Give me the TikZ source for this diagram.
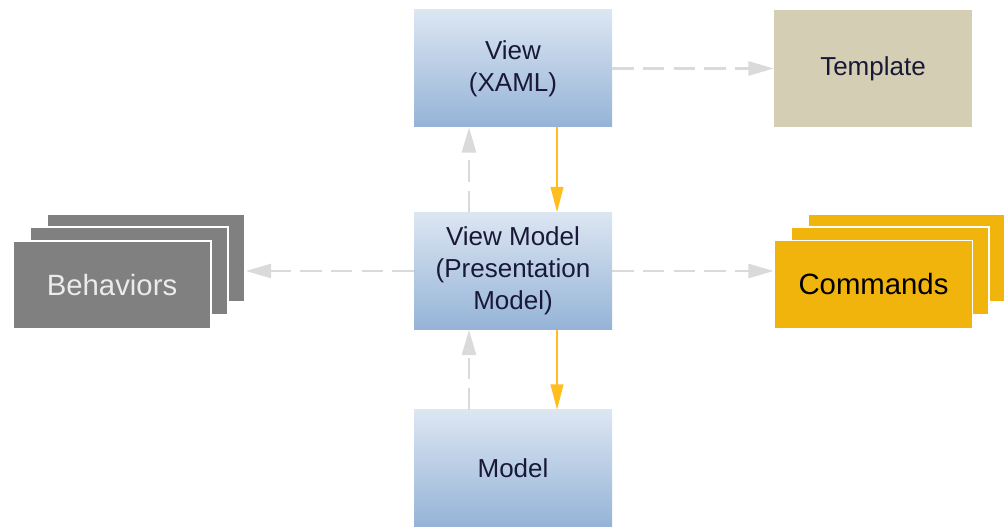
\documentclass[tikz,border=0pt]{standalone}
\usepackage{fontspec}
\setmainfont{Liberation Sans}
\usetikzlibrary{arrows.meta}
\definecolor{boxtop}{RGB}{220,230,242}
\definecolor{boxbot}{RGB}{149,179,215}
\definecolor{tmplfill}{RGB}{212,206,181}
\definecolor{behfill}{RGB}{128,128,128}
\definecolor{cmdfill}{RGB}{240,180,12}
\definecolor{linkgray}{RGB}{218,218,218}
\definecolor{linkorange}{RGB}{255,190,30}
\definecolor{boxtext}{RGB}{25,25,55}
\begin{document}
\begin{tikzpicture}[
  x=0.75pt, y=-0.75pt,
  layer/.style={minimum width=148.5pt, minimum height=87.75pt, inner sep=0pt,
    align=center, text=boxtext, top color=boxtop, bottom color=boxbot,
    font=\fontsize{19.5}{24}\selectfont},
  tmpl/.style={minimum width=148.5pt, minimum height=87.75pt, inner sep=0pt,
    fill=tmplfill, text=boxtext, font=\fontsize{19.5}{24}\selectfont},
  card/.style={minimum width=148.5pt, minimum height=66pt, inner sep=0pt,
    draw=white, line width=1.2pt, font=\fontsize{22}{26}\selectfont},
  dep/.style={draw=linkgray, line width=2pt, dash pattern=on 16pt off 7pt,
    -{Triangle[length=19pt,width=10.5pt]}},
  flow/.style={draw=linkorange, line width=1.5pt,
    -{Triangle[length=19pt,width=9.5pt]}}
]
\useasboundingbox (0,0) rectangle (1004,527);

\node[layer] (view) at (513,68.5) {View\\(XAML)};
\node[layer] (vm) at (513,271) {View Model\\(Presentation\\Model)};
\node[layer] (model) at (513,468.5) {Model};
\node[tmpl] (template) at (873,68.5) {Template};

% stacked cards
\node[card, fill=behfill] (beh3) at (146,258) {};
\node[card, fill=behfill] (beh2) at (129,271) {};
\node[card, fill=behfill, text=white!92!black] (beh1) at (112,285) {Behaviors};
\node[card, fill=cmdfill] (cmd3) at (907,258) {};
\node[card, fill=cmdfill] (cmd2) at (890,271) {};
\node[card, fill=cmdfill, text=black] (cmd1) at (873.5,284.5) {Commands};

% dependencies
\draw[dep] (view) -- (template);
\draw[dep] (vm.west) -- (vm.west -| beh3.east);
\draw[dep] (vm.east) -- (vm.east -| cmd1.west);
\draw[dep] ([xshift=-33pt]vm.north) -- ([xshift=-33pt]view.south);
\draw[dep] ([xshift=-33pt]model.north) -- ([xshift=-33pt]vm.south);

% data flow
\draw[flow] ([xshift=33pt]view.south) -- ([xshift=33pt]vm.north);
\draw[flow] ([xshift=33pt]vm.south) -- ([xshift=33pt]model.north);
\end{tikzpicture}
\end{document}
